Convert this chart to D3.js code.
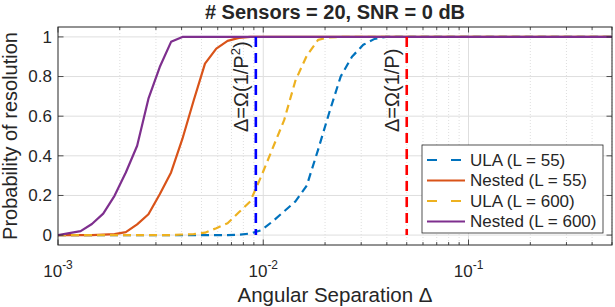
<!DOCTYPE html>
<html>
<head>
<meta charset="utf-8">
<script src="https://cdn.jsdelivr.net/npm/d3@7"></script>
<style>
  body { margin: 0; background: #fff; }
  svg { display: block; }
  text { font-family: "Liberation Sans", Arial, Helvetica, sans-serif; fill: #262626; }
</style>
</head>
<body>
<svg id="chart" width="615" height="307"></svg>
<script>
// ---- Data ----
const titleText = "# Sensors = 20, SNR = 0 dB";
const xLabel = "Angular Separation \u0394";
const yLabel = "Probability of resolution";

// angular separations (log-spaced samples from 1e-3 to 0.5)
const delta = [0.001000, 0.001135, 0.001289, 0.001463, 0.001661, 0.001885, 0.002140, 0.002430, 0.002758, 0.003131,
               0.003555, 0.004036, 0.004581, 0.005201, 0.005904, 0.006702, 0.007609, 0.008638, 0.009805, 0.01113,
               0.01264, 0.01435, 0.01629, 0.01849, 0.02099, 0.02383, 0.02705, 0.03070, 0.03486, 0.03957,
               0.04492, 0.05099, 0.05789, 0.06572, 0.07460, 0.08469, 0.09614, 0.1091, 0.1239, 0.1407,
               0.1597, 0.1813, 0.2058, 0.2336, 0.2652, 0.3011, 0.3418, 0.3880, 0.4405, 0.5000];

const seriesNames = ["ULA (L = 55)", "Nested (L = 55)", "ULA (L = 600)", "Nested (L = 600)"];
const seriesColors = ["#0072BD", "#D95319", "#EDB120", "#7E2F8E"];
const seriesDashed = [true, false, true, false];

const ula55 = [0, 0, 0, 0, 0, 0, 0, 0, 0, 0,
               0, 0, 0, 0, 0, 0, 0.002, 0.008, 0.025, 0.07,
               0.12, 0.17, 0.25, 0.43, 0.62, 0.80, 0.90, 0.96, 0.99, 1,
               1, 1, 1, 1, 1, 1, 1, 1, 1, 1,
               1, 1, 1, 1, 1, 1, 1, 1, 1, 1];
const nested55 = [0, 0, 0, 0, 0.002, 0.005, 0.015, 0.054, 0.105, 0.206,
                  0.316, 0.485, 0.679, 0.865, 0.941, 0.98, 0.995, 1, 1, 1,
                  1, 1, 1, 1, 1, 1, 1, 1, 1, 1,
                  1, 1, 1, 1, 1, 1, 1, 1, 1, 1,
                  1, 1, 1, 1, 1, 1, 1, 1, 1, 1];
const ula600 = [0, 0, 0, 0, 0, 0, 0, 0, 0, 0,
                0, 0.003, 0.005, 0.012, 0.035, 0.06, 0.115, 0.17, 0.30, 0.44,
                0.58, 0.78, 0.905, 0.985, 0.998, 1, 1, 1, 1, 1,
                1, 1, 1, 1, 1, 1, 1, 1, 1, 1,
                1, 1, 1, 1, 1, 1, 1, 1, 1, 1];
const nested600 = [0, 0.01, 0.02, 0.056, 0.108, 0.198, 0.316, 0.451, 0.688, 0.848,
                   0.975, 1, 1, 1, 1, 1, 1, 1, 1, 1,
                   1, 1, 1, 1, 1, 1, 1, 1, 1, 1,
                   1, 1, 1, 1, 1, 1, 1, 1, 1, 1,
                   1, 1, 1, 1, 1, 1, 1, 1, 1, 1];
const seriesValues = [ula55, nested55, ula600, nested600];

// reference vertical lines
const refLines = [
  { x: 0.0092, color: "#0000FF", label: ["\u0394=\u03A9(1/P", "2", ")"] },
  { x: 0.05,   color: "#FF0000", label: ["\u0394=\u03A9(1/P)", "", ""] }
];

const xDomain = [1e-3, 0.5];
const yDomain = [-0.05, 1.05];
const xMajorTicks = [1e-3, 1e-2, 1e-1];
const xTickExp = ["-3", "-2", "-1"];
const yTicks = [0, 0.2, 0.4, 0.6, 0.8, 1];
const yTickLabels = ["0", "0.2", "0.4", "0.6", "0.8", "1"];

// ---- Layout ----
const L = 58, R = 612, T = 27, B = 245;
const svg = d3.select("#chart");
const x = d3.scaleLog().domain(xDomain).range([L, R]);
const y = d3.scaleLinear().domain(yDomain).range([B, T]);

// minor ticks
const xMinor = [];
[1e-3, 1e-2, 1e-1].forEach(d => { for (let k = 2; k <= 9; k++) { const v = d * k; if (v <= xDomain[1]) xMinor.push(v); } });

// background
svg.append("rect").attr("x", L).attr("y", T).attr("width", R - L).attr("height", B - T).attr("fill", "#fff");

// grid
const grid = svg.append("g");
grid.selectAll(".minor").data(xMinor).enter().append("line")
  .attr("x1", d => x(d)).attr("x2", d => x(d)).attr("y1", T).attr("y2", B)
  .attr("stroke", "#c8c8c8").attr("stroke-width", 0.6).attr("stroke-dasharray", "1,2");
grid.selectAll(".majx").data(xMajorTicks.slice(1)).enter().append("line")
  .attr("x1", d => x(d)).attr("x2", d => x(d)).attr("y1", T).attr("y2", B)
  .attr("stroke", "#dedede").attr("stroke-width", 1);
grid.selectAll(".majy").data(yTicks).enter().append("line")
  .attr("x1", L).attr("x2", R).attr("y1", d => y(d)).attr("y2", d => y(d))
  .attr("stroke", "#dedede").attr("stroke-width", 1);

// clip
svg.append("clipPath").attr("id", "clip").append("rect")
  .attr("x", L).attr("y", T).attr("width", R - L).attr("height", B - T);

const plot = svg.append("g").attr("clip-path", "url(#clip)");
const line = d3.line().x((d, i) => x(delta[i])).y(d => y(d));

seriesValues.forEach((vals, s) => {
  plot.append("path").datum(vals)
    .attr("d", line)
    .attr("fill", "none")
    .attr("stroke", seriesColors[s])
    .attr("stroke-width", 2.2)
    .attr("stroke-linejoin", "round")
    .attr("stroke-dasharray", seriesDashed[s] ? "8,5" : null);
});

// vertical reference lines
refLines.forEach(r => {
  plot.append("line")
    .attr("x1", x(r.x)).attr("x2", x(r.x))
    .attr("y1", y(1)).attr("y2", y(0))
    .attr("stroke", r.color).attr("stroke-width", 2.6)
    .attr("stroke-dasharray", "10,6");
  const t = svg.append("text")
    .attr("transform", `translate(${x(r.x) - 8},${132}) rotate(-90)`)
    .attr("font-size", 20)
    .attr("fill", "#000");
  t.append("tspan").text(r.label[0]);
  if (r.label[1]) {
    t.append("tspan").attr("font-size", 13).attr("dy", -8).text(r.label[1]);
    t.append("tspan").attr("dy", 8).text(r.label[2]);
  }
});

// axes box
svg.append("rect").attr("x", L).attr("y", T).attr("width", R - L).attr("height", B - T)
  .attr("fill", "none").attr("stroke", "#262626").attr("stroke-width", 1);

// ticks
const ticks = svg.append("g").attr("stroke", "#262626").attr("stroke-width", 0.8);
xMajorTicks.forEach(d => {
  ticks.append("line").attr("x1", x(d)).attr("x2", x(d)).attr("y1", B).attr("y2", B - 5.5);
  ticks.append("line").attr("x1", x(d)).attr("x2", x(d)).attr("y1", T).attr("y2", T + 5.5);
});
xMinor.forEach(d => {
  ticks.append("line").attr("x1", x(d)).attr("x2", x(d)).attr("y1", B).attr("y2", B - 3);
  ticks.append("line").attr("x1", x(d)).attr("x2", x(d)).attr("y1", T).attr("y2", T + 3);
});
yTicks.forEach(d => {
  ticks.append("line").attr("x1", L).attr("x2", L + 5.5).attr("y1", y(d)).attr("y2", y(d));
  ticks.append("line").attr("x1", R).attr("x2", R - 5.5).attr("y1", y(d)).attr("y2", y(d));
});

// tick labels
yTicks.forEach((d, i) => {
  svg.append("text").attr("x", L - 6).attr("y", y(d)).attr("dy", "0.35em")
    .attr("text-anchor", "end").attr("font-size", 17).text(yTickLabels[i]);
});
xMajorTicks.forEach((d, i) => {
  const t = svg.append("text").attr("x", x(d)).attr("y", 277)
    .attr("text-anchor", "middle").attr("font-size", 17);
  t.append("tspan").text("10");
  t.append("tspan").attr("font-size", 12).attr("dy", -8).text(xTickExp[i]);
});

// axis labels and title
svg.append("text").attr("x", (L + R) / 2).attr("y", 302).attr("text-anchor", "middle")
  .attr("font-size", 20.5).text(xLabel);
svg.append("text").attr("transform", `translate(17,${(T + B) / 2}) rotate(-90)`)
  .attr("text-anchor", "middle").attr("font-size", 20).text(yLabel);
svg.append("text").attr("x", (L + R) / 2).attr("y", 19).attr("text-anchor", "middle")
  .attr("font-size", 20).attr("font-weight", "bold").attr("fill", "#000").text(titleText);

// legend
const lg = svg.append("g");
const lgX = 422, lgY = 145, lgW = 181, lgH = 88;
lg.append("rect").attr("x", lgX).attr("y", lgY).attr("width", lgW).attr("height", lgH)
  .attr("fill", "#fff").attr("stroke", "#262626").attr("stroke-width", 0.8);
seriesNames.forEach((name, s) => {
  const cy = lgY + 15 + s * 20.5;
  lg.append("line").attr("x1", lgX + 5).attr("x2", lgX + 43).attr("y1", cy).attr("y2", cy)
    .attr("stroke", seriesColors[s]).attr("stroke-width", 2.2)
    .attr("stroke-dasharray", seriesDashed[s] ? "10,14" : null);
  lg.append("text").attr("x", lgX + 48).attr("y", cy).attr("dy", "0.35em")
    .attr("font-size", 17).attr("fill", "#000").text(name);
});
</script>
</body>
</html>
